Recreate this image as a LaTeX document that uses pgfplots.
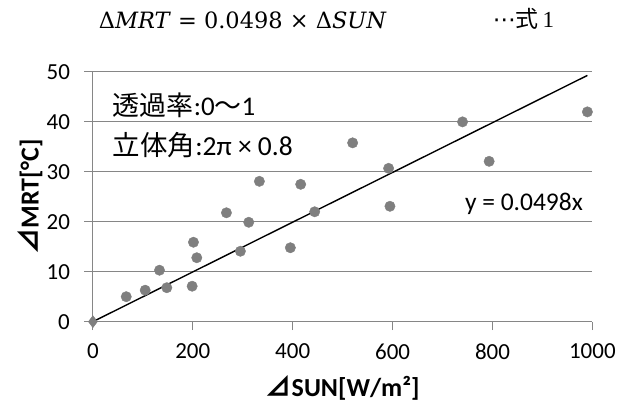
\documentclass[border=0pt]{standalone}
\usepackage{fontspec}
\setmainfont{Carlito}
\newfontfamily\cjk{Noto Sans CJK JP}
\newfontfamily\serif{Liberation Serif}
\newfontfamily\dserif{DejaVu Serif}
\newfontfamily\dejavu{DejaVu Sans}
\usepackage{pgfplots}
\pgfplotsset{compat=1.18}
\definecolor{gridgray}{HTML}{868686}
\definecolor{markgray}{HTML}{7F7F7F}
\begin{document}
\begin{tikzpicture}
\begin{axis}[
  scale only axis,
  width=500pt, height=250pt,
  xmin=0, xmax=1000, ymin=0, ymax=50,
  xtick={0,200,...,1000}, ytick={0,10,...,50},
  axis lines=left,
  axis line style={gridgray, line width=0.9pt, -},
  tick align=outside,
  major tick length=8.5pt,
  every tick/.style={gridgray, line width=0.9pt},
  ymajorgrids,
  grid style={gridgray, line width=0.9pt},
  /pgf/number format/assume math mode=true,
  /pgf/number format/set thousands separator={},
  ticklabel style={font=\fontsize{23}{26}\selectfont, text=black},
  xticklabel style={yshift=-10pt},
  yticklabel style={xshift=-11pt},
  clip=false,
  xlabel={\bfseries{\cjk\bfseries ⊿}SUN[W/m²]},
  ylabel={\bfseries{\cjk\bfseries ⊿}MRT[°C]},
  xlabel style={at={(axis description cs:0.5,-0.265)}, anchor=center, font=\fontsize{26}{30}\selectfont},
  ylabel style={at={(axis description cs:-0.126,0.5)}, anchor=center, rotate=0, font=\fontsize{26}{30}\selectfont},
]
\addplot[only marks, mark=*, mark size=5.2pt, markgray, mark options={draw=markgray, fill=markgray}] coordinates {
(66.7,5.0) (104.7,6.3) (148,6.8) (133.3,10.3) (198.7,7.1) (201.3,15.9) (208,12.8)
(267.3,21.8) (295.3,14.1) (312,19.9) (333.3,28.1) (395.3,14.8) (416,27.5) (444,22.0)
(520,35.8) (592,30.7) (594.7,23.1) (740,40.0) (793.3,32.1) (990,42.0)
};
\addplot[only marks, mark=diamond*, mark size=6pt, markgray, mark options={draw=markgray, fill=markgray}] coordinates {(0,0)};
\addplot[black, line width=1.4pt, no marks] coordinates {(0,0) (990,49.302)};
\node[anchor=center, font=\fontsize{25.5}{28}\selectfont] at (axis cs:863,23.5) {y = 0.0498x};
\node[anchor=west, font=\fontsize{27}{31}\selectfont] at (axis cs:33,43.3) {{\cjk 透過率}:0{\cjk 〜}1};
\node[anchor=west, font=\fontsize{27.5}{31}\selectfont] at (axis cs:33,35.3) {{\cjk 立体角}:2π × 0.8};
\end{axis}
\node[anchor=center, font=\fontsize{22.5}{26}\selectfont\dserif] at (150pt,302pt) {Δ\textit{MRT} = 0.0498 × Δ\textit{SUN}};
\node[anchor=center, font=\fontsize{23}{26}\selectfont\serif] at (431pt,303pt) {{\dejavu ⋯}{\cjk 式}\,1};
\path[use as bounding box] (-93pt,-88pt) rectangle (526pt,322pt);
\end{tikzpicture}
\end{document}
